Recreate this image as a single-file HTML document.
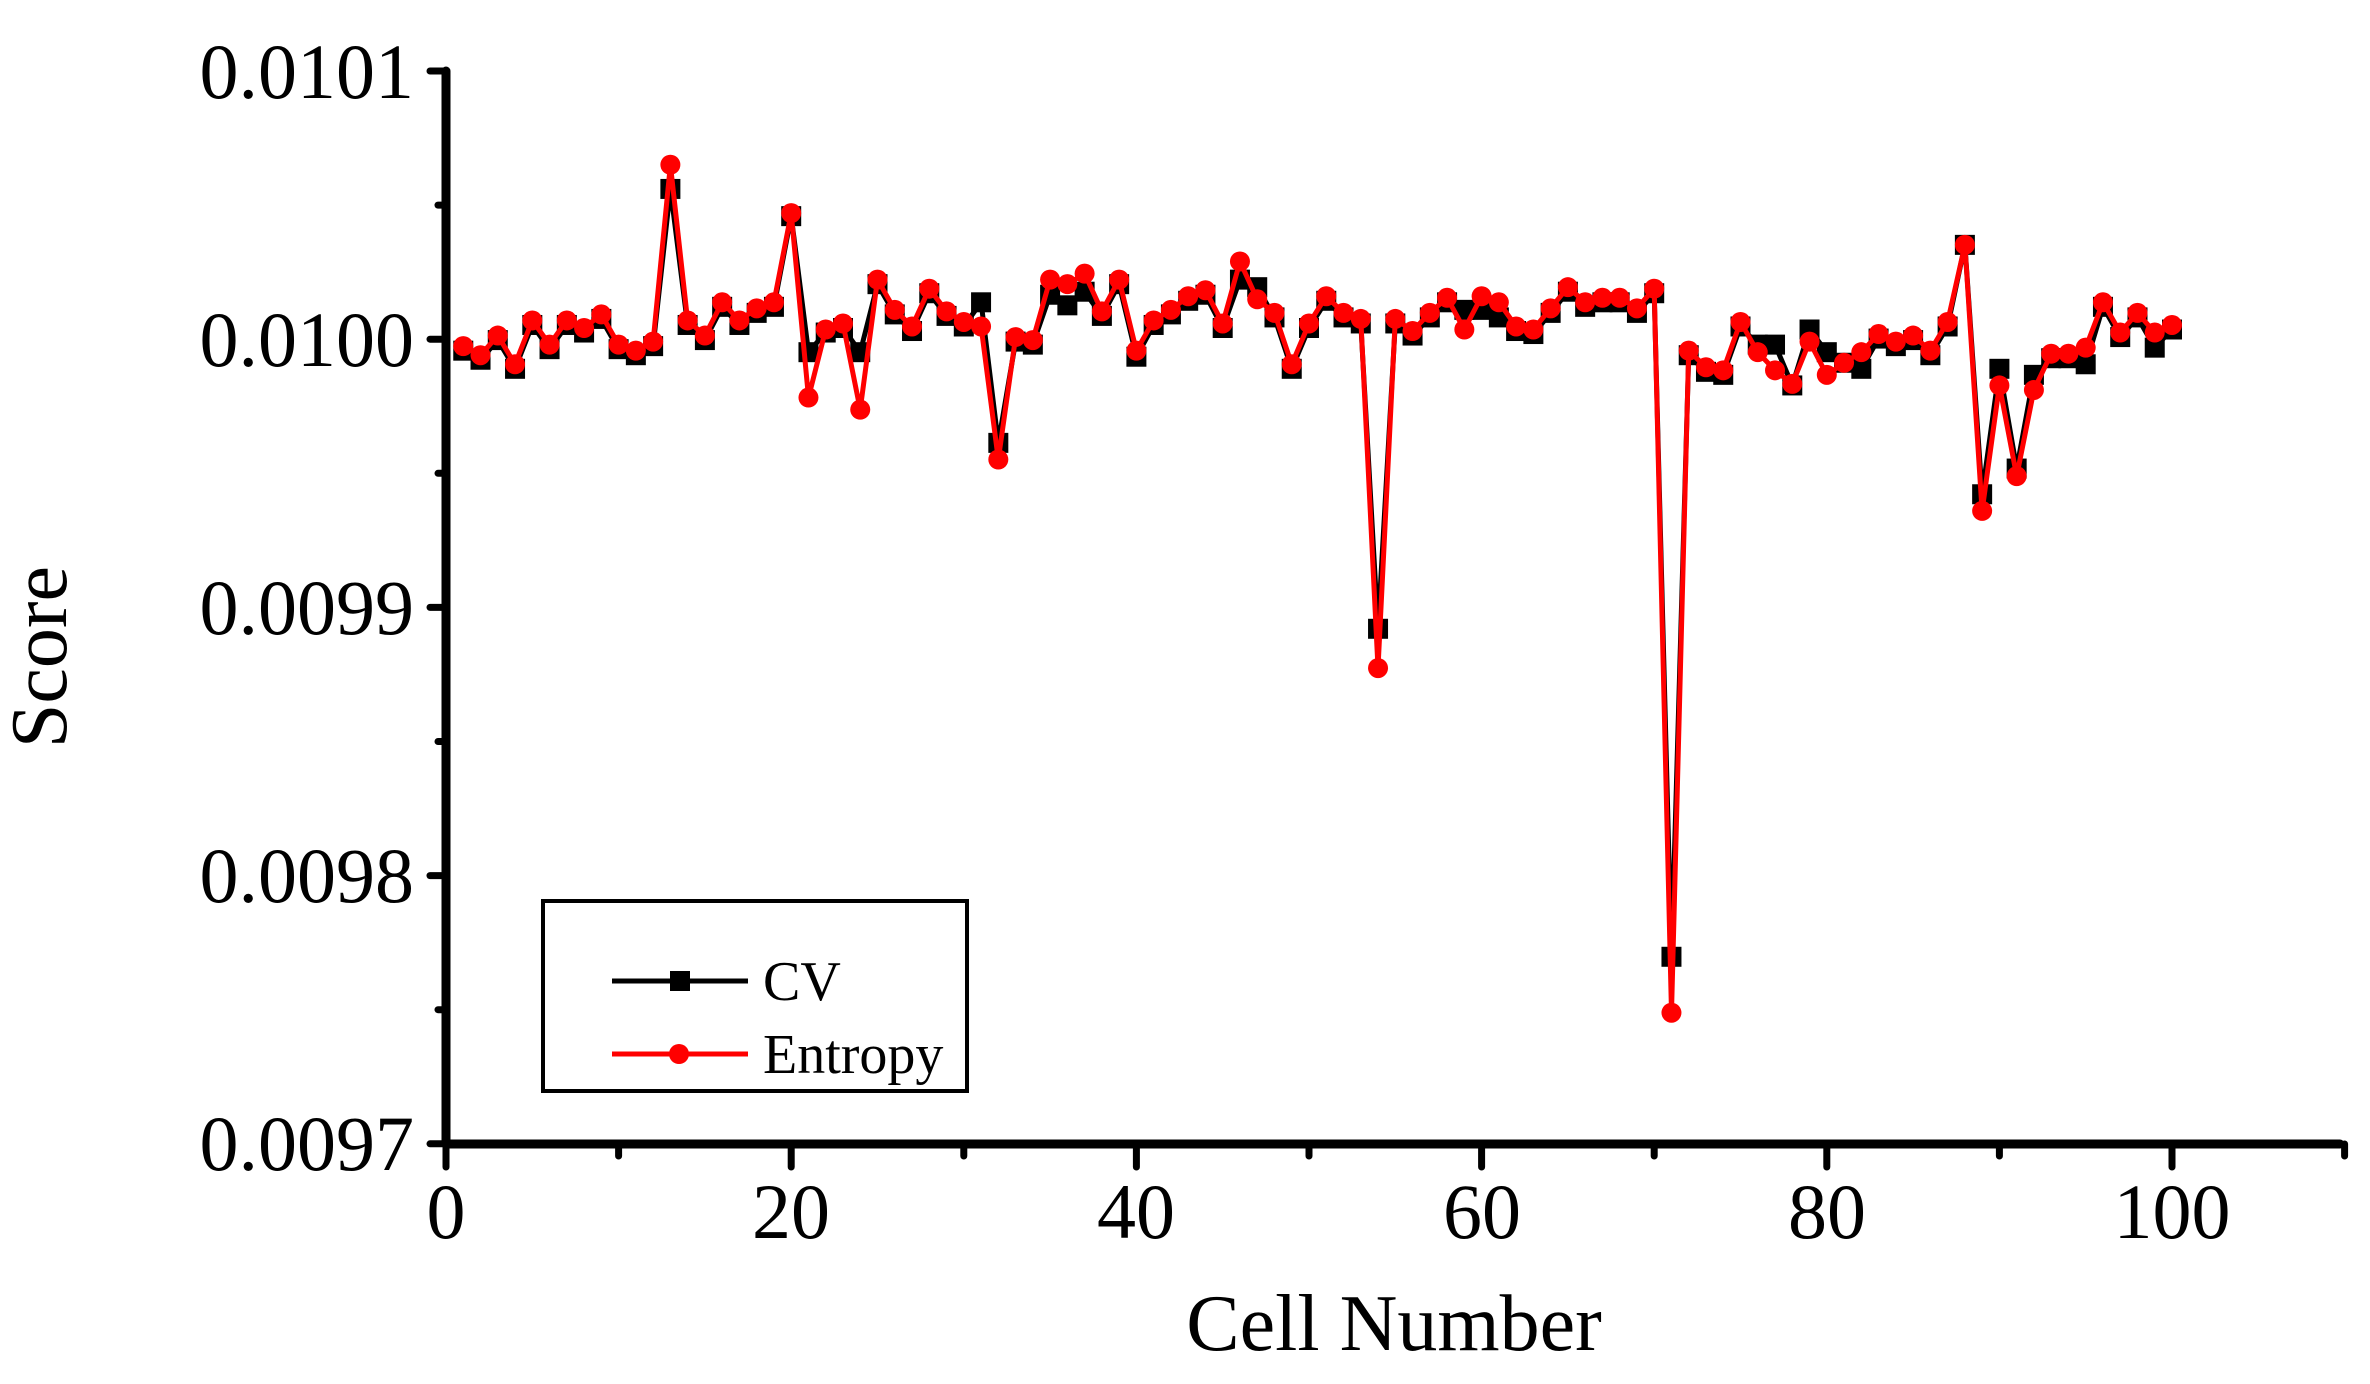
<!DOCTYPE html>
<html><head><meta charset="utf-8"><style>
html,body{margin:0;padding:0;background:#fff;width:2370px;height:1384px;overflow:hidden}
text{font-family:"Liberation Serif",serif;fill:#000}
</style></head><body>
<svg id="s" width="2370" height="1384" xmlns="http://www.w3.org/2000/svg">
<g stroke="#000" stroke-width="9" stroke-linecap="round">
<line x1="446" y1="71" x2="446" y2="1144"/>
<line x1="446" y1="1144" x2="2340" y2="1144"/>
</g>
<g id="ticks" stroke="#000" stroke-width="7" stroke-linecap="round"></g>
<g font-size="78" text-anchor="end">
<text x="414" y="98">0.0101</text>
<text x="414" y="366">0.0100</text>
<text x="414" y="634">0.0099</text>
<text x="414" y="902">0.0098</text>
<text x="414" y="1170">0.0097</text>
</g>
<g font-size="78" text-anchor="middle">
<text x="446" y="1238">0</text>
<text x="791" y="1238">20</text>
<text x="1136" y="1238">40</text>
<text x="1482" y="1238">60</text>
<text x="1827" y="1238">80</text>
<text x="2172" y="1238">100</text>
</g>
<text x="1394" y="1350" font-size="80" text-anchor="middle">Cell Number</text>
<text transform="translate(66,657) rotate(-90)" font-size="80" text-anchor="middle">Score</text>
<g id="data"></g>
<rect x="543" y="901" width="424" height="190" fill="#fff" stroke="#000" stroke-width="4"/>
<line x1="612" y1="981" x2="748" y2="981" stroke="#000" stroke-width="5"/>
<rect x="670" y="971" width="20" height="20" fill="#000"/>
<line x1="612" y1="1054" x2="748" y2="1054" stroke="#f00" stroke-width="5"/>
<circle cx="679" cy="1054" r="10" fill="#f00"/>
<text x="763" y="1000" font-size="56">CV</text>
<text x="763" y="1073" font-size="56">Entropy</text>
</svg>
<script>
var ns="http://www.w3.org/2000/svg";
var E=[229,235,222,241,212,228,212,217,208,228,232,226,109,212,222,200,212,204,200,141,263,218,214,271,185,205,216,191,206,213,216,304,223,225,185,188,181,206,185,232,212,205,196,192,214,173,198,207,241,214,196,207,211,442,211,219,207,197,218,196,200,216,218,204,190,200,197,197,204,191,670,232,243,245,213,233,245,254,226,248,240,233,221,226,222,232,213,162,338,255,315,258,234,234,230,200,220,207,220,215];
var C=E.map(function(v){return v+3;});
var ov={13:125,20:143,21:233,22:220,24:233,31:200,32:293,35:195,36:202,37:193,40:236,46:185,47:190,54:416,71:633,76:228,77:228,78:255,79:218,80:233,81:240,82:244,88:162,89:327,90:244,91:310,92:248,95:241,99:230,61:210,60:205,59:205};
for(var k in ov)C[k-1]=ov[k];
function X(i){return 446+17.26*i;}
function Y(d){return d*1.5115;}
var g=document.getElementById('data');
function series(a,col,sq){
 var p=a.map(function(v,i){return X(i+1).toFixed(1)+','+Y(v).toFixed(1);}).join(' ');
 var pl=document.createElementNS(ns,'polyline');
 pl.setAttribute('points',p);pl.setAttribute('fill','none');pl.setAttribute('stroke',col);pl.setAttribute('stroke-width','5');
 g.appendChild(pl);
 a.forEach(function(v,i){
  var e;
  if(sq){e=document.createElementNS(ns,'rect');e.setAttribute('x',X(i+1)-10);e.setAttribute('y',Y(v)-10);e.setAttribute('width',20);e.setAttribute('height',20);}
  else{e=document.createElementNS(ns,'circle');e.setAttribute('cx',X(i+1));e.setAttribute('cy',Y(v));e.setAttribute('r',10);}
  e.setAttribute('fill',col);g.appendChild(e);
 });
}
series(C,'#000',true);
series(E,'#f00',false);
var t=document.getElementById('ticks');
function ln(x1,y1,x2,y2){var l=document.createElementNS(ns,'line');l.setAttribute('x1',x1);l.setAttribute('y1',y1);l.setAttribute('x2',x2);l.setAttribute('y2',y2);t.appendChild(l);}
for(var j=0;j<=8;j++){var y=71+134.1*j;ln(446,y,j%2?438:430,y);}
for(var i=0;i<=110;i+=10){var x=X(i);ln(x,1144,x,i%20?1156:1167);}
</script>
</body></html>
